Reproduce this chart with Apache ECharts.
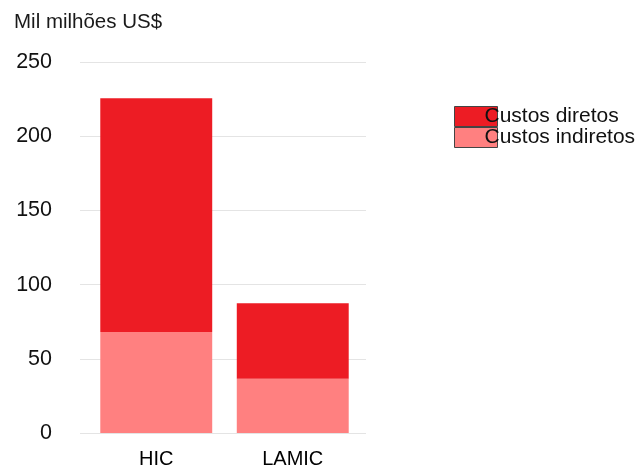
<!DOCTYPE html>
<html><head><meta charset="utf-8">
<script src="https://cdn.jsdelivr.net/npm/echarts@6/dist/echarts.min.js"></script>
<style>html,body{margin:0;padding:0;background:#fff}#c{width:638px;height:469px}</style>
</head><body><div id="c"></div>
<script>
const categories = ['HIC', 'LAMIC'];
const indirectCosts = [68, 36.5];
const directCosts = [157.5, 51];
const yTicks = { min: 0, max: 250, interval: 50 };

const font = 'Liberation Sans, Arial, sans-serif';
const chart = echarts.init(document.getElementById('c'), null, { renderer: 'canvas' });
chart.setOption({
  animation: false,
  backgroundColor: '#fff',
  title: {
    text: 'Mil milhões US$', left: 14, top: 12, padding: 0,
    textStyle: { fontFamily: font, fontSize: 20.5, fontWeight: 'normal', color: '#1a1a1a' }
  },
  legend: {
    orient: 'vertical', left: 454, top: 106, padding: 0, itemWidth: 43, itemHeight: 20, itemGap: 0,
    icon: 'rect',
    data: ['Custos diretos', 'Custos indiretos'],
    itemStyle: { borderColor: '#444', borderWidth: 1 },
    textStyle: { fontFamily: font, fontSize: 21, color: '#111', padding: [0, 0, 0, -18] }
  },
  grid: [
    { left: 80, right: 272, top: 62, bottom: 36 },
    { left: 88, right: 277, top: 62, bottom: 36 }
  ],
  xAxis: [
    { type: 'category', gridIndex: 0, data: categories, show: false },
    {
      type: 'category', gridIndex: 1, data: categories,
      axisLine: { show: false }, axisTick: { show: false },
      axisLabel: { fontFamily: font, fontSize: 20, color: '#000', margin: 16 }
    }
  ],
  yAxis: [
    {
      type: 'value', gridIndex: 0, min: yTicks.min, max: yTicks.max, interval: yTicks.interval,
      axisLine: { show: false }, axisTick: { show: false },
      splitLine: { lineStyle: { color: '#e4e4e4', width: 1 } },
      axisLabel: { fontFamily: font, fontSize: 21.5, color: '#111', margin: 28 }
    },
    {
      type: 'value', gridIndex: 1, min: yTicks.min, max: yTicks.max, interval: yTicks.interval,
      show: false, splitLine: { show: false }
    }
  ],
  series: [
    { name: 'Custos indiretos', type: 'bar', stack: 'total', data: indirectCosts, barWidth: '82%',
      xAxisIndex: 1, yAxisIndex: 1, itemStyle: { color: '#FF8080' } },
    { name: 'Custos diretos', type: 'bar', stack: 'total', data: directCosts, barWidth: '82%',
      xAxisIndex: 1, yAxisIndex: 1, itemStyle: { color: '#ED1C24' } }
  ]
});
</script></body></html>
